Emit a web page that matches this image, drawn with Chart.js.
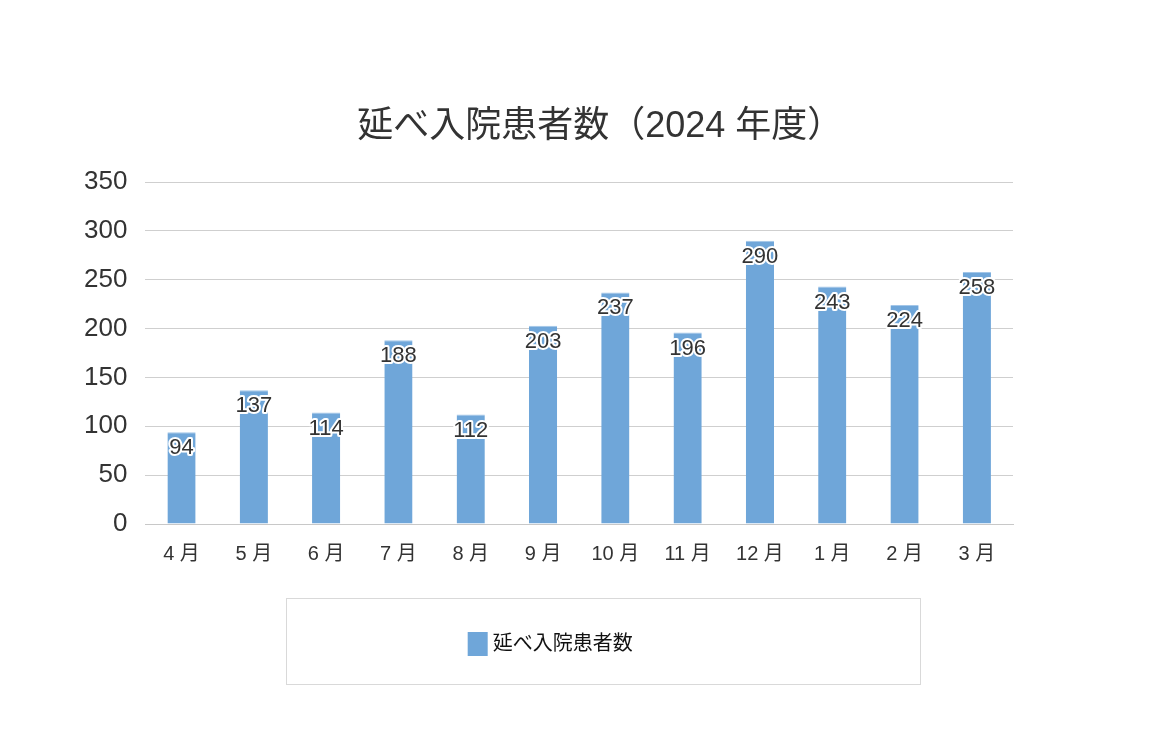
<!DOCTYPE html>
<html>
<head>
<meta charset="utf-8">
<script src="https://cdn.jsdelivr.net/npm/chart.js@4"></script>
<style>
  body { margin: 0; background: #fff; }
  #wrap { width: 1150px; height: 750px; }
</style>
</head>
<body>
<div id="wrap"><canvas id="myChart"></canvas></div>
<script>
const months = ['4 月','5 月','6 月','7 月','8 月','9 月','10 月','11 月','12 月','1 月','2 月','3 月'];
const patients = [94, 137, 114, 188, 112, 203, 237, 196, 290, 243, 224, 258];
const seriesName = '延べ入院患者数';
const chartTitle = '延べ入院患者数（2024 年度）';

const FONT = '"Liberation Sans", "Noto Sans CJK JP", sans-serif';
const BAR_COLOR = '#6fa6d9';

// value labels drawn just under the top of each bar, white outlined
const barLabels = {
    id: 'barLabels',
    afterDatasetsDraw(chart){
        const ctx = chart.ctx;
        const meta = chart.getDatasetMeta(0);
        ctx.save();
        ctx.font = '22px ' + FONT;
        ctx.textAlign = 'center';
        ctx.textBaseline = 'middle';
        ctx.lineJoin = 'round';
        meta.data.forEach(function(bar, i){
            const y = bar.y + 16;
            ctx.lineWidth = 4;
            ctx.strokeStyle = '#fff';
            ctx.strokeText(patients[i], bar.x, y);
            ctx.fillStyle = '#333';
            ctx.fillText(patients[i], bar.x, y);
        });
        ctx.restore();
    }
};

// title a bit right of the plot centre, legend in a thin frame below
const titleAndLegend = {
    id: 'titleAndLegend',
    afterDraw(chart){
        const ctx = chart.ctx;
        const area = chart.chartArea;
        const mid = (area.left + area.right) / 2;
        ctx.save();
        ctx.fillStyle = '#333';
        ctx.font = '36px ' + FONT;
        ctx.textAlign = 'center';
        ctx.textBaseline = 'middle';
        ctx.fillText(chartTitle, mid + 21, 127);

        ctx.strokeStyle = '#d9d9d9';
        ctx.lineWidth = 1;
        ctx.strokeRect(286.5, 598.5, 634, 86);

        ctx.font = '20px ' + FONT;
        const tw = ctx.measureText(seriesName).width;
        const total = 20 + 5 + tw;
        const x0 = mid - 29 - total / 2;
        ctx.fillStyle = BAR_COLOR;
        ctx.fillRect(x0, 632, 20, 24);
        ctx.fillStyle = '#111';
        ctx.textAlign = 'left';
        ctx.fillText(seriesName, x0 + 25, 644);
        ctx.restore();
    }
};

const ctx = document.getElementById('myChart').getContext('2d');
const myChart = new Chart(ctx, {
    type: 'bar',
    data: {
        labels: months,
        datasets: [{
            label: seriesName,
            data: patients,
            backgroundColor: BAR_COLOR,
            borderColor: '#a3c6e8',
            borderWidth: { top: 1, left: 0, right: 0, bottom: 0 },
            borderSkipped: 'bottom',
            categoryPercentage: 0.78,
            barPercentage: 0.5
        }]
    },
    options: {
        responsive: true,
        maintainAspectRatio: false,
        animation: false,
        layout: { padding: { left: 66, right: 137, top: 182, bottom: 174 } },
        plugins: {
            title: { display: false },
            legend: { display: false },
            tooltip: { enabled: false }
        },
        scales: {
            x: {
                grid: { display: false },
                border: { color: '#c8c8c8' },
                ticks: { color: '#333', font: { family: FONT, size: 20 }, padding: 10 }
            },
            y: {
                min: 0,
                max: 350,
                ticks: { stepSize: 50, color: '#333', font: { family: FONT, size: 26 }, padding: 18 },
                grid: { color: '#cfcfcf', drawTicks: false },
                border: { display: false }
            }
        }
    },
    plugins: [barLabels, titleAndLegend]
});
</script>
</body>
</html>
